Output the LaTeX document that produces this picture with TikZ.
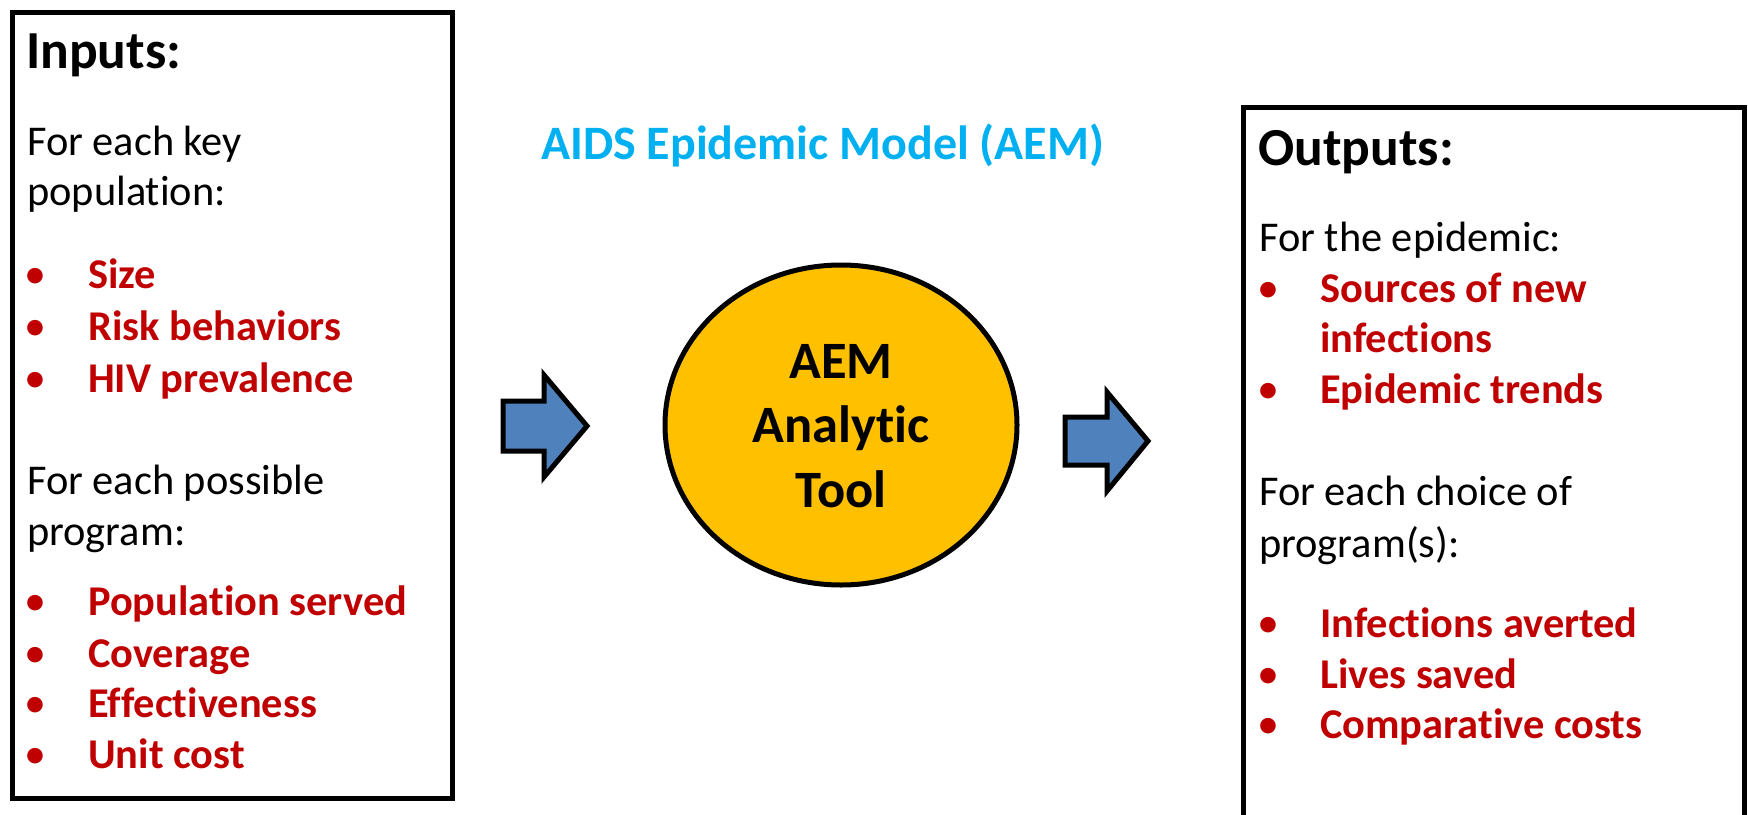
\documentclass[tikz,border=0pt]{standalone}
\usepackage{fontspec}
\setmainfont{Carlito}[Ligatures=NoCommon]
\usetikzlibrary{shapes.geometric}
\definecolor{redtxt}{HTML}{C00000}
\definecolor{cyantxt}{HTML}{00B0F0}
\definecolor{aemorange}{HTML}{FFC000}
\definecolor{arrowblue}{HTML}{4F81BD}
\begin{document}
\begin{tikzpicture}[x=1pt,y=-1pt,
  body/.style={anchor=base west, inner sep=0pt, font=\fontsize{42.4}{50}\selectfont},
  item/.style={anchor=base west, inner sep=0pt, text=redtxt, font=\fontsize{42.4}{50}\selectfont\bfseries},
  headtxt/.style={anchor=base west, inner sep=0pt, font=\fontsize{53.5}{60}\selectfont\bfseries},
  bul/.style={anchor=base, inner sep=0pt, text=redtxt, font=\fontsize{44}{50}\selectfont},
  tooltxt/.style={anchor=base, inner sep=0pt, font=\fontsize{52.5}{60}\selectfont\bfseries},
  panel/.style={draw=black, line width=5pt, rectangle, inner sep=0pt, anchor=north west},
  blockarrow/.style={draw=black, line width=5pt, fill=arrowblue, line join=miter},
]
\useasboundingbox (0,0) rectangle (1748,814);
\fill[white] (0,0) rectangle (1748,814);
\begin{scope}
\clip (0,0) rectangle (1748,814);

% panels
\node[panel, minimum width=440.5pt, minimum height=786pt] (inbox) at (9.5,10) {};
\node[panel, line width=4.5pt, minimum width=501pt, minimum height=760pt] (outbox) at (1241,105) {};

% title
\node[anchor=base west, inner sep=0pt, text=cyantxt, font=\fontsize{48}{56}\selectfont\bfseries] (title) at (541,159) {AIDS Epidemic Model (AEM)};

% central tool
\node[ellipse, draw=black, line width=5pt, fill=aemorange, minimum width=352pt, minimum height=320pt, inner sep=0pt] (aem) at (841,425) {};
\node[tooltxt] (aem1) at (841,378) {AEM};
\node[tooltxt] (aem2) at (841,442) {Analytic};
\node[tooltxt] (aem3) at (841,507) {Tool};

% block arrows
\draw[blockarrow] (503,401) -- (544,401) -- (544,375) -- (587,426) -- (544,477) -- (544,451) -- (503,451) -- cycle;
\draw[blockarrow] (1065,417) -- (1107,417) -- (1107,392) -- (1148,441) -- (1107,491) -- (1107,465) -- (1065,465) -- cycle;

% inputs text
\node[headtxt] (inhead) at (26,68) {Inputs:};
\node[body] (in1) at (27,155) {For each key};
\node[body] (in2) at (27,205) {population:};
\node[bul] (b1) at (35.5,288) {•};
\node[item] (i1) at (88,288) {Size};
\node[bul] (b2) at (35.5,340) {•};
\node[item] (i2) at (88,340) {Risk behaviors};
\node[bul] (b3) at (35.5,392) {•};
\node[item] (i3) at (88,392) {HIV prevalence};
\node[body] (in3) at (27,494) {For each possible};
\node[body] (in4) at (27,545) {program:};
\node[bul] (b4) at (35.5,615) {•};
\node[item] (i4) at (88,615) {Population served};
\node[bul] (b5) at (35.5,667) {•};
\node[item] (i5) at (88,667) {Coverage};
\node[bul] (b6) at (35.5,717) {•};
\node[item] (i6) at (88,717) {Effectiveness};
\node[bul] (b7) at (35.5,768) {•};
\node[item] (i7) at (88,768) {Unit cost};

% outputs text
\node[headtxt] (outhead) at (1258,165) {Outputs:};
\node[body] (out1) at (1259,251) {For the epidemic:};
\node[bul] (c1) at (1268,302) {•};
\node[item] (o1) at (1320,302) {Sources of new};
\node[item] (o1b) at (1320,352) {infections};
\node[bul] (c2) at (1268,403) {•};
\node[item] (o2) at (1320,403) {Epidemic trends};
\node[body] (out2) at (1259,505) {For each choice of};
\node[body] (out3) at (1259,557) {program(s):};
\node[bul] (c3) at (1268,637) {•};
\node[item] (o3) at (1320,637) {Infections averted};
\node[bul] (c4) at (1268,688) {•};
\node[item] (o4) at (1320,688) {Lives saved};
\node[bul] (c5) at (1268,738) {•};
\node[item] (o5) at (1320,738) {Comparative costs};
\end{scope}
\end{tikzpicture}
\end{document}
